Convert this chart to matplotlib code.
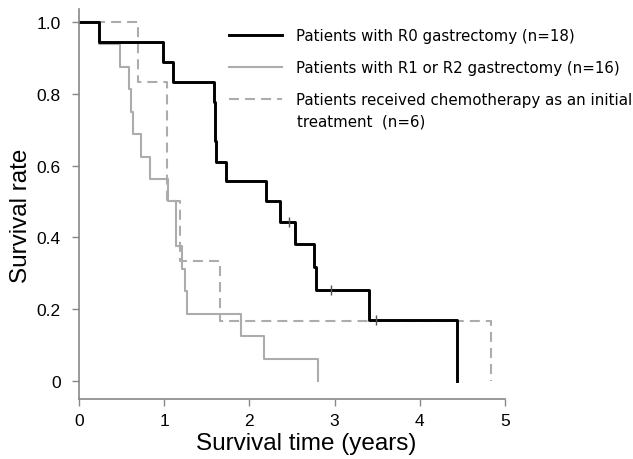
import numpy as np
import matplotlib
matplotlib.use("Agg")
import matplotlib.pyplot as plt

plt.rcParams['font.family'] = ['Liberation Sans', 'DejaVu Sans']

# Kaplan-Meier steps (time in years, survival rate)
r0_time = [0, 0.24, 0.99, 1.10, 1.58, 1.60, 1.61, 1.72, 2.19, 2.36, 2.53, 2.76, 2.78, 3.40, 4.44]
r0_surv = [1.0, 0.944, 0.889, 0.833, 0.778, 0.667, 0.611, 0.556, 0.5, 0.444, 0.381, 0.317, 0.254, 0.169, 0.0]
r0_cens_time = [2.47, 2.96, 3.48]
r0_cens_surv = [0.444, 0.254, 0.169]

r12_time = [0, 0.24, 0.48, 0.59, 0.61, 0.63, 0.73, 0.835, 1.05, 1.14, 1.21, 1.24, 1.27, 1.90, 2.17, 2.80]
r12_surv = [1.0, 0.9375, 0.875, 0.8125, 0.75, 0.6875, 0.625, 0.5625, 0.5, 0.375, 0.3125, 0.25, 0.1875, 0.125, 0.0625, 0.0]

chemo_time = [0, 0.69, 1.03, 1.19, 1.65, 4.83]
chemo_surv = [1.0, 0.833, 0.5, 0.333, 0.167, 0.0]

labels = ['Patients with R0 gastrectomy (n=18)',
          'Patients with R1 or R2 gastrectomy (n=16)',
          'Patients received chemotherapy as an initial']

fig = plt.figure(figsize=(6.33, 4.6), dpi=100)
ax = fig.add_axes([0.1248, 0.1304, 0.673, 0.848])

gray = '#acacac'
ax.step(r12_time, r12_surv, where='post', color=gray, lw=1.5, label=labels[1])
ax.step(chemo_time, chemo_surv, where='post', color=gray, lw=1.5, ls=(0, (4.8, 2.9)), label=labels[2])
ax.step(r0_time, r0_surv, where='post', color='black', lw=2.1, label=labels[0])
ax.plot(r0_cens_time, r0_cens_surv, ls='none', marker='|', ms=7, mew=1, color='#555555')

ax.set_xlim(0, 5)
ax.set_ylim(-0.05, 1.036)
ax.set_xticks([0, 1, 2, 3, 4, 5])
ax.set_yticks([0, 0.2, 0.4, 0.6, 0.8, 1.0])
ax.set_yticklabels(['0', '0.2', '0.4', '0.6', '0.8', '1.0'])
ax.tick_params(labelsize=12.5, length=5, color='#888888', width=1)
ax.tick_params(axis='y', pad=8)
ax.tick_params(axis='x', pad=5)
for s in ['top', 'right']:
    ax.spines[s].set_visible(False)
for s in ['left', 'bottom']:
    ax.spines[s].set_color('#888888')
    ax.spines[s].set_linewidth(1.2)

ax.set_xlabel('Survival time (years)', fontsize=17.5)
ax.set_ylabel('Survival rate', fontsize=17.5)
ax.xaxis.set_label_coords(0.533, -0.085)
ax.yaxis.set_label_coords(-0.11, 0.472)

h, l = ax.get_legend_handles_labels()
order = [2, 0, 1]
leg = fig.legend([h[i] for i in order], [l[i] for i in order], loc='upper left',
                 bbox_to_anchor=(229 / 633, 1 - 29 / 460), frameon=False,
                 prop={'family': 'DejaVu Sans', 'size': 10.8},
                 borderpad=0, borderaxespad=0,
                 handlelength=3.5, labelspacing=1.14, handletextpad=1.0)
fig.text(297 / 633, 1 - 121.7 / 460, 'treatment  (n=6)', va='center',
         family='DejaVu Sans', fontsize=10.8)

fig.savefig('out.png', dpi=100)
